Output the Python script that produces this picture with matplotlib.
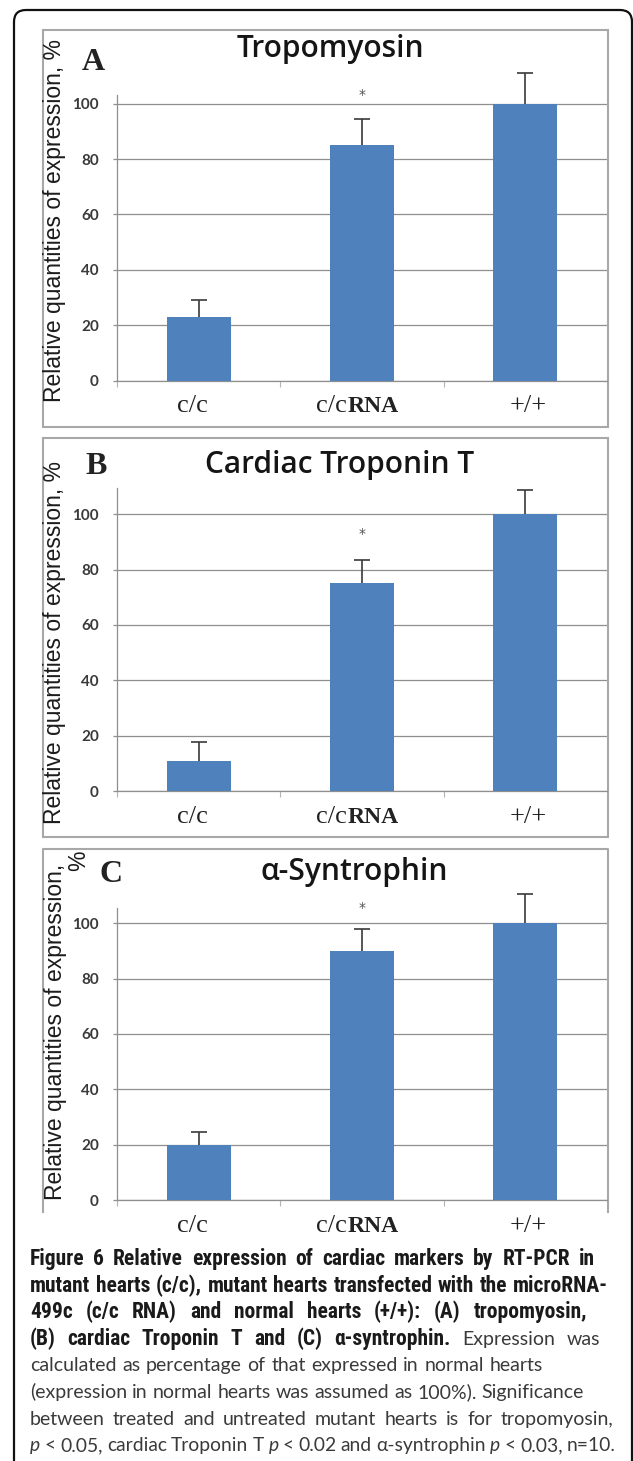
import matplotlib
matplotlib.use("Agg")
import matplotlib.pyplot as plt
from matplotlib.patches import Rectangle, FancyBboxPatch
from matplotlib.transforms import offset_copy

# data
categories = ["c/c", "c/cRNA", "+/+"]
tropomyosin = [23, 85, 100]
tropomyosin_err = [6, 9.5, 11]
troponin = [11, 75, 100]
troponin_err = [6.7, 8.6, 8.7]
syntrophin = [20, 90, 100]
syntrophin_err = [4.5, 7.8, 10.5]
star_y = [103.3, 92.7, 105.5]
titles = ["Tropomyosin", "Cardiac Troponin T", "α-Syntrophin"]
letters = ["A", "B", "C"]
yticks = [0, 20, 40, 60, 80, 100]

W, H = 633, 1461
fig = plt.figure(figsize=(W / 100, H / 100), dpi=100)
fig.patch.set_facecolor("white")

# background axes in pixel units (y going down)
bg = fig.add_axes([0, 0, 1, 1])
bg.set_xlim(0, W)
bg.set_ylim(H, 0)
bg.axis("off")
bg.add_patch(FancyBboxPatch((14, 10), 618, 1520, boxstyle="round,pad=0,rounding_size=12",
                            fc="none", ec="#111111", lw=1.6))

bar_color = "#4f81bd"
grid_color = "#8f8f8f"
box_color = "#a8a8a8"
px_per_unit = 2.768

# panel layout in pixels: box top/bottom, zero line, y max, title, letter, ylabel centre
panels = [
    dict(vals=tropomyosin, err=tropomyosin_err, box=(30, 427), zero=380.5, ymax=103.3,
         title_y=49, title_x=330, let=(93, 63), ylab=220),
    dict(vals=troponin, err=troponin_err, box=(438, 837), zero=791, ymax=109.4,
         title_y=465, title_x=340, let=(96, 466), ylab=642),
    dict(vals=syntrophin, err=syntrophin_err, box=(849, 1212), zero=1200, ymax=105.4,
         title_y=872, title_x=354, let=(111, 874), ylab=1032),
]

for i, p in enumerate(panels):
    top, bot = p["box"]
    if i < 2:
        bg.add_patch(Rectangle((43, top), 565, bot - top, fc="none", ec=box_color, lw=1.5))
    else:
        bg.plot([43, 43, 608, 608], [bot, top, top, bot], color=box_color, lw=1.5)

    h = p["ymax"] * px_per_unit
    ax = fig.add_axes([117 / W, 1 - p["zero"] / H, 490 / W, h / H])
    ax.patch.set_visible(False)
    x = range(len(categories))
    ax.bar(x, p["vals"], width=0.39, color=bar_color, zorder=3)
    eb = ax.errorbar(x, p["vals"], yerr=[[0] * 3, p["err"]], fmt="none", ecolor="#3a3a3a",
                     elinewidth=1.2, capsize=6, capthick=1.2, zorder=4)
    for part in eb.get_children():
        part.set_clip_on(False)
    eb[1][0].set_visible(False)  # no cap at the bottom end
    ax.text(1, star_y[i], "*", ha="center", va="center", fontsize=10, color="#555555",
            clip_on=False)

    ax.set_xlim(-0.5, 2.5)
    ax.set_ylim(0, p["ymax"])
    ax.set_yticks(yticks)
    ax.set_yticklabels([str(t) for t in yticks], fontfamily="Lato", fontweight="bold",
                       fontsize=11, color="#3a3a3a")
    ax.tick_params(axis="y", length=3, width=0.9, color=grid_color, pad=10)
    ax.set_xticks([0, 1, 2])
    ax.set_xticklabels([])
    ax.tick_params(axis="x", which="major", length=0)
    ax.set_xticks([-0.5, 0.5, 1.5], minor=True)
    ax.tick_params(axis="x", which="minor", length=4, width=0.8, color="#b5b5b5")
    ax.set_axisbelow(True)
    ax.yaxis.grid(True, color=grid_color, lw=0.9)
    for s in ["top", "right"]:
        ax.spines[s].set_visible(False)
    for s in ["left", "bottom"]:
        ax.spines[s].set_color(grid_color)
        ax.spines[s].set_linewidth(0.9)

    # category labels
    lab_kw = dict(fontfamily="Liberation Serif", color="#222222", va="baseline")
    tr = ax.get_xaxis_transform()
    ax.text(0, 0, "c/c", ha="center", fontsize=19,
            transform=offset_copy(tr, fig=fig, x=-6, y=-32, units="dots"), **lab_kw)
    ax.text(1, 0, "c/c", ha="right", fontsize=19,
            transform=offset_copy(tr, fig=fig, x=-15, y=-32, units="dots"), **lab_kw)
    ax.text(1, 0, "RNA", ha="left", fontsize=17, fontweight="bold",
            transform=offset_copy(tr, fig=fig, x=-14, y=-32, units="dots"), **lab_kw)
    ax.text(2, 0, "+/+", ha="center", fontsize=19,
            transform=offset_copy(tr, fig=fig, x=3, y=-32, units="dots"), **lab_kw)

    bg.text(p["title_x"], p["title_y"], titles[i], ha="center", va="center",
            fontfamily="Open Sans", fontweight="semibold", fontsize=21.5, color="#151515")
    bg.text(p["let"][0], p["let"][1], letters[i], ha="center", va="center",
            fontfamily="Liberation Serif", fontweight="bold", fontsize=23, color="#222222")

    ylab_kw = dict(rotation=90, ha="center", va="center", fontfamily="Liberation Sans",
                   fontsize=16.5, color="#1c1c1c")
    if i < 2:
        bg.text(55, p["ylab"], "Relative quantities of expression, %", **ylab_kw)
    else:
        bg.text(56, p["ylab"], "Relative quantities of expression,", **ylab_kw)
        bg.text(79, 861, "%", **ylab_kw)

# caption, laid out word by word
bold_fonts = ["Roboto Condensed", "Noto Sans Condensed", "Open Sans Condensed",
              "Liberation Sans Narrow", "Lato", "DejaVu Sans"]
text_fonts = ["Lato", "DejaVu Sans"]
styles = {
    "b": dict(fontfamily=bold_fonts, fontweight="bold", color="#1a1a1a"),
    "r": dict(fontfamily=text_fonts, fontweight="normal", color="#3a3a3a"),
    "i": dict(fontfamily=text_fonts, fontweight="normal", fontstyle="italic", color="#3a3a3a"),
}
style_fs = {"b": 15.5, "r": 14, "i": 14}

def words(text, st):
    return [(w, st) for w in text.split()]

caption = [
    words("Figure 6 Relative expression of cardiac markers by RT-PCR in", "b"),
    words("mutant hearts (c/c), mutant hearts transfected with the microRNA-", "b"),
    words("499c (c/c RNA) and normal hearts (+/+): (A) tropomyosin,", "b"),
    words("(B) cardiac Troponin T and (C) α-syntrophin.", "b") + words("Expression was", "r"),
    words("calculated as percentage of that expressed in normal hearts", "r"),
    words("(expression in normal hearts was assumed as 100%). Significance", "r"),
    words("between treated and untreated mutant hearts is for tropomyosin,", "r"),
    [("p", "i")] + words("< 0.05, cardiac Troponin T", "r") + [("p", "i")]
    + words("< 0.02 and α-syntrophin", "r") + [("p", "i")] + words("< 0.03, n=10.", "r"),
]
right_edges = [595, 608, 587, 600, 543, 584, 613, 616]
x_left = 30
base_y = 1265
line_gap = 26.6

renderer = fig.canvas.get_renderer()

def measure(line, scale):
    ws = []
    for w, st in line:
        t = bg.text(0, 0, w, fontsize=style_fs[st] * scale, **styles[st])
        ws.append(t.get_window_extent(renderer).width)
        t.remove()
    return ws

for k, (line, xr) in enumerate(zip(caption, right_edges)):
    ws = measure(line, 1.0)
    need = sum(ws) + 4.3 * (len(ws) - 1)
    scale = min(1.0, (xr - x_left) / need)
    ws = measure(line, scale)
    gap = (xr - x_left - sum(ws)) / (len(ws) - 1)
    xpos = x_left
    y = base_y + k * line_gap
    for (w, st), wd in zip(line, ws):
        bg.text(xpos, y, w, fontsize=style_fs[st] * scale, va="baseline", ha="left",
                **styles[st])
        xpos += wd + gap

fig.savefig("out.png", dpi=100)
